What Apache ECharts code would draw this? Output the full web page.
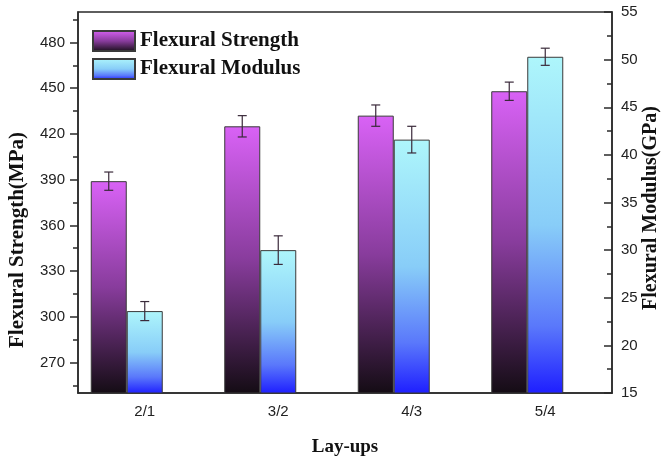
<!DOCTYPE html>
<html><head><meta charset="utf-8">
<script src="https://cdn.jsdelivr.net/npm/echarts@6/dist/echarts.min.js"></script>
<style>html,body{margin:0;padding:0;background:#fff}#c{width:664px;height:462px}</style>
</head><body><div id="c"></div>
<script>
const categories = ['2/1', '3/2', '4/3', '5/4'];
const strength = [389, 425, 432, 448];
const strengthErr = [6, 7, 7, 6];
const modulus = [23.6, 30.0, 41.6, 50.3];
const modulusErr = [1.0, 1.5, 1.4, 0.9];
const strengthTicks = [270, 300, 330, 360, 390, 420, 450, 480];
const strengthMinorTicks = [255, 285, 315, 345, 375, 405, 435, 465, 495];

const BAR_W = 36;
const AX = '#2a2a2a';
const serifBold = {fontFamily: 'Liberation Serif', fontWeight: 'bold', color: '#111'};

function errRender(shift) {
  return function (params, api) {
    const x = api.value(0), v = api.value(1), e = api.value(2);
    const top = api.coord([x, v + e]);
    const bot = api.coord([x, v - e]);
    const cx = top[0] + shift;
    const cap = 4.5;
    const st = {stroke: '#3a2a3a', lineWidth: 1.2};
    return {type: 'group', children: [
      {type: 'line', shape: {x1: cx, y1: top[1], x2: cx, y2: bot[1]}, style: st},
      {type: 'line', shape: {x1: cx - cap, y1: top[1], x2: cx + cap, y2: top[1]}, style: st},
      {type: 'line', shape: {x1: cx - cap, y1: bot[1], x2: cx + cap, y2: bot[1]}, style: st}
    ]};
  };
}

const magentaGrad = new echarts.graphic.LinearGradient(0, 0, 0, 1, [
  {offset: 0, color: '#d962f6'},
  {offset: 0.5, color: '#883c9c'},
  {offset: 1, color: '#140c14'}
]);
const cyanGrad = new echarts.graphic.LinearGradient(0, 0, 0, 1, [
  {offset: 0, color: '#aef6fb'},
  {offset: 0.5, color: '#88cdf8'},
  {offset: 0.8, color: '#5a78fb'},
  {offset: 1, color: '#1e1eff'}
]);

const chart = echarts.init(document.getElementById('c'), null, {renderer: 'canvas'});
chart.setOption({
  animation: false,
  backgroundColor: '#fff',
  grid: {left: 78, right: 52, top: 12, bottom: 62, show: true, borderColor: AX, borderWidth: 1.5, backgroundColor: 'transparent'},
  legend: {
    orient: 'vertical', left: 92, top: 30, padding: 0,
    itemWidth: 42, itemHeight: 20, itemGap: 6, icon: 'rect',
    data: ['Flexural Strength', 'Flexural Modulus'],
    textStyle: Object.assign({fontSize: 21}, serifBold)
  },
  xAxis: [{
    type: 'category', data: categories, boundaryGap: true,
    axisLine: {lineStyle: {color: AX, width: 1.5}},
    axisTick: {alignWithLabel: true, length: 7, lineStyle: {color: AX, width: 1.5}},
    axisLabel: {fontSize: 15, color: '#222', margin: 11, fontFamily: 'Liberation Sans'},
    name: 'Lay-ups', nameLocation: 'middle', nameGap: 45,
    nameTextStyle: Object.assign({fontSize: 19}, serifBold)
  }, {
    type: 'category', data: categories, position: 'bottom', boundaryGap: true,
    axisLine: {show: false}, axisLabel: {show: false},
    axisTick: {length: 4, lineStyle: {color: AX, width: 1.5}}
  }],
  yAxis: [{
    type: 'value', position: 'left', min: 250, max: 500,
    axisLine: {show: true, lineStyle: {color: AX, width: 1.5}},
    axisTick: {show: true, customValues: strengthTicks, length: 8, lineStyle: {color: AX, width: 1.5}},
    axisLabel: {customValues: strengthTicks, fontSize: 15, color: '#222', margin: 13, fontFamily: 'Liberation Sans'},
    splitLine: {show: false}
  }, {
    type: 'value', position: 'right', min: 15, max: 55, interval: 5,
    axisLine: {show: true, lineStyle: {color: AX, width: 1.5}},
    axisTick: {show: true, inside: true, length: 8, lineStyle: {color: AX, width: 1.5}},
    minorTick: {show: true, splitNumber: 2, length: 5, lineStyle: {color: AX, width: 1.5}},
    axisLabel: {fontSize: 15, color: '#222', margin: 9, fontFamily: 'Liberation Sans'},
    splitLine: {show: false}
  }, {
    type: 'value', position: 'left', min: 250, max: 500,
    axisLine: {show: false}, axisLabel: {show: false}, splitLine: {show: false},
    axisTick: {show: true, customValues: strengthMinorTicks, length: 5, lineStyle: {color: AX, width: 1.5}}
  }],
  graphic: [{
    type: 'text', x: 18, y: 240, rotation: Math.PI / 2,
    style: {text: 'Flexural Strength(MPa)', font: 'bold 21px "Liberation Serif"', fill: '#111', align: 'center', verticalAlign: 'middle'}
  }, {
    type: 'text', x: 651, y: 208, rotation: Math.PI / 2,
    style: {text: 'Flexural Modulus(GPa)', font: 'bold 20px "Liberation Serif"', fill: '#111', align: 'center', verticalAlign: 'middle'}
  }],
  series: [{
    name: 'Flexural Strength', type: 'bar', xAxisIndex: 0, yAxisIndex: 0,
    barWidth: BAR_W, barGap: '0%', data: strength,
    itemStyle: {color: magentaGrad, borderColor: '#3a3a3a', borderWidth: 1}
  }, {
    name: 'Flexural Modulus', type: 'bar', xAxisIndex: 0, yAxisIndex: 1,
    barWidth: BAR_W, barGap: '0%', data: modulus,
    itemStyle: {color: cyanGrad, borderColor: '#3a3a3a', borderWidth: 1}
  }, {
    name: 'spacer', type: 'bar', xAxisIndex: 0, yAxisIndex: 0,
    barWidth: BAR_W, barGap: '0%', data: categories.map(() => null)
  }, {
    type: 'custom', xAxisIndex: 0, yAxisIndex: 0, z: 5,
    renderItem: errRender(-BAR_W),
    data: strength.map((v, i) => [i, v, strengthErr[i]])
  }, {
    type: 'custom', xAxisIndex: 0, yAxisIndex: 1, z: 5,
    renderItem: errRender(0),
    data: modulus.map((v, i) => [i, v, modulusErr[i]])
  }]
});
</script></body></html>
